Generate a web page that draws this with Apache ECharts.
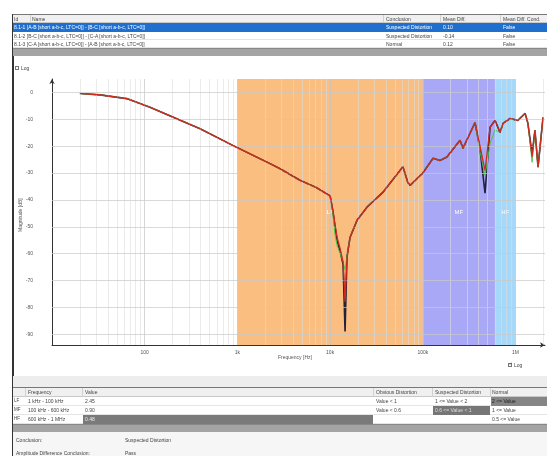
<!DOCTYPE html>
<html><head><meta charset="utf-8">
<script src="https://cdn.jsdelivr.net/npm/echarts@6/dist/echarts.min.js"></script>
<style>
html,body{margin:0;padding:0;width:547px;height:456px;overflow:hidden;background:#fff;font-family:"Liberation Sans",Arial,sans-serif;}
#chart{position:absolute;left:0;top:0;width:547px;height:456px;}
.b{position:absolute;box-sizing:border-box;}
.t{position:absolute;font-size:5px;line-height:8px;color:#444;white-space:nowrap;}
</style></head><body>
<div id="chart"></div>
<div id="ui"></div>
<script>
// ---------- data ----------
const freqHz = [20,33,64,114,203,396,890,2250,2890,4730,7000,10000,10700,11300,11900,12800,13800,14500,15200,16400,19500,25000,37000,61000,69000,73000,93000,100000,129000,153000,182000,252000,271000,366000,414000,469000,531000,601000,681000,733000,873000,1060000,1270000,1360000,1510000,1620000,1750000,1980000];
const redDb   = [-0.4,-0.9,-2.3,-5.5,-9.2,-13.5,-19.7,-26.5,-28.4,-32.7,-35.3,-38.5,-44,-49,-54,-58,-63,-78,-62,-54,-47.6,-42.7,-37.2,-27.7,-33.5,-34.6,-31,-30,-24.5,-25.3,-24,-17.8,-20.8,-11.2,-20,-29,-13,-10.4,-14.9,-11.5,-9.7,-10.4,-7.8,-11.5,-24,-14,-27.8,-9.3];
const greenDb = [-0.4,-0.9,-2.3,-5.5,-9.2,-13.5,-19.7,-26.5,-28.4,-32.7,-35.3,-38.5,-45,-53,-57,-60,-63,-66,-61,-54,-47.6,-42.7,-37.2,-27.7,-33.5,-34.6,-31,-30,-24.5,-25.3,-24,-17.8,-20.8,-11.2,-22,-31,-19,-14,-14.9,-11.5,-9.7,-10.4,-7.8,-11.5,-26,-14,-27.8,-9.3];
const darkDb  = [-0.4,-0.9,-2.3,-5.5,-9.2,-13.5,-19.7,-26.5,-28.4,-32.7,-35.3,-38.5,-44,-50,-55,-59,-64,-89,-61,-54,-47.6,-42.7,-37.2,-27.7,-33.5,-34.6,-31,-30,-24.5,-25.3,-24,-17.8,-20.8,-11.2,-21,-37.5,-13,-10.4,-14.9,-11.5,-9.7,-10.4,-7.8,-11.5,-23,-14,-27.8,-9.3];

const bandNames = ['LF','MF','HF'];
const bandStartHz = [1000,100000,600000];
const bandEndHz = [100000,600000,1000000];

const xTickValues = [100,1000,10000,100000,1000000];
const xTickLabels = ['100','1k','10k','100k','1M'];
const yTickValues = [0,-10,-20,-30,-40,-50,-60,-70,-80,-90];
const decades = [10,100,1000,10000,100000,1000000];
const minorMultipliers = [2,3,4,5,6,7,8,9];

const topHeaders = ['Id','Name','Conclusion','Mean Diff.','Mean Diff. Cond.'];
const topIds = ['8.1-1','8.1-2','8.1-3'];
const topNames = ['[A-B [short a-b-c, LTC=0]] - [B-C [short a-b-c, LTC=0]]','[B-C [short a-b-c, LTC=0]] - [C-A [short a-b-c, LTC=0]]','[C-A [short a-b-c, LTC=0]] - [A-B [short a-b-c, LTC=0]]'];
const topConclusions = ['Suspected Distortion','Suspected Distortion','Normal'];
const topMeanDiff = ['0.10','-0.14','0.12'];
const topCond = ['False','False','False'];

const botHeaders = ['Frequency','Value','Obvious Distortion','Suspected Distortion','Normal'];
const botBands = ['LF','MF','HF'];
const botRanges = ['1 kHz - 100 kHz','100 kHz - 600 kHz','600 kHz - 1 MHz'];
const botValues = ['2.45','0.90','0.48'];
const botObvious = ['Value < 1','Value < 0.6',''];
const botSuspected = ['1 <= Value < 2','0.6 <= Value < 1',''];
const botNormal = ['2 <= Value','1 <= Value','0.5 <= Value'];

// ---------- UI (tables) ----------
const ui = document.getElementById('ui');
function box(l,t,w,h,style){const d=document.createElement('div');d.className='b';d.style.cssText=`left:${l}px;top:${t}px;width:${w}px;height:${h}px;`+(style||'');ui.appendChild(d);return d;}
function txt(l,t,s,style){const d=document.createElement('div');d.className='t';d.style.cssText=`left:${l}px;top:${t}px;`+(style||'');d.textContent=s;ui.appendChild(d);return d;}

// left frame
box(12,14,1.5,442,'background:#333;');
// top table
box(13,14,534,1,'background:#777;');
box(13,15,534,8,'background:#f0f0f0;border-bottom:1px solid #c8c8c8;');
const topCols=[14,32,386,443,503];
[30,383,440,500].forEach(x=>box(x,15,1,8,'background:#d0d0d0;'));
topHeaders.forEach((h,i)=>txt(topCols[i],15,h));
const rowTops=[23,32,40];
rowTops.forEach((rt,i)=>{
  const sel=i===0;
  box(13,rt,534,i===0?9:8,sel?'background:#1f6fcf;':'background:#fff;border-bottom:1px solid #e4e4e4;');
  const c=sel?'color:#fff;':'';
  txt(14,rt,topIds[i]+' '+topNames[i],c);
  txt(386,rt,topConclusions[i],c);
  txt(443,rt,topMeanDiff[i],c);
  txt(503,rt,topCond[i],c);
});
box(13,48,534,8,'background:#a4a4a4;border-top:1px solid #888;');
// log checkbox top-left
box(15,66,4,4,'border:0.6px solid #777;background:#fff;');
txt(21,64,'Log');
// bottom right checkbox
box(508,363,4,4,'border:0.6px solid #777;background:#fff;');
txt(509.2,360,'✓','font-size:4px;color:#333;');
txt(514,361,'Log');

// bottom panel
box(13,376,534,11,'background:#ededed;');
box(13,387,534,1,'background:#777;');
box(13,388,534,9,'background:#f0f0f0;border-bottom:1px solid #c8c8c8;');
const botCols=[28,85,376,435,492];
botHeaders.forEach((h,i)=>txt(botCols[i],388,h));
[25,82,373,432,490].forEach(x=>box(x,388,1,36,'background:#d0d0d0;'));
const bRowTops=[397,406,415];
bRowTops.forEach((rt,i)=>{
  box(13,rt,534,9,'background:#fff;border-bottom:1px solid #e4e4e4;');
  txt(14,rt,botBands[i],'font-size:4.5px;');
  txt(28,rt,botRanges[i]);
  if(i===2){box(83,rt,290,9,'background:#7a7a7a;');txt(85,rt,botValues[i],'color:#eee;');}
  else txt(85,rt,botValues[i]);
  txt(376,rt,botObvious[i]);
  if(i===1){box(433,rt,57,9,'background:#767676;');txt(435,rt,botSuspected[i],'color:#ddd;');}
  else txt(435,rt,botSuspected[i]);
  if(i===0){box(491,rt,56,9,'background:#858585;');txt(492,rt,botNormal[i],'color:#222;');}
  else txt(492,rt,botNormal[i]);
});
box(13,424,534,8,'background:#a4a4a4;border-top:1px solid #888;');
box(13,432,534,24,'background:#f6f6f6;');
txt(16,436,'Conclusion:');
txt(125,436,'Suspected Distortion');
txt(16,449,'Amplitude Difference Conclusion:');
txt(125,449,'Pass');

// ---------- chart ----------
const chart = echarts.init(document.getElementById('chart'), null, {renderer:'canvas'});
const XMIN=10, XMAX=2080000;
const minorX=[];
decades.forEach(d=>minorMultipliers.forEach(m=>{const v=d*m; if(v<XMAX) minorX.push(v);}));
const noLbl={show:false};
const gridSeries = {
  type:'line', data:[], z:1, silent:true,
  markLine:{silent:true,symbol:['none','none'],label:noLbl,animation:false,
    data:[
      ...minorX.map(v=>({xAxis:v,lineStyle:{color:'#dedede',width:0.6,type:'solid'}})),
      ...xTickValues.map(v=>({xAxis:v,lineStyle:{color:'#c4c4c4',width:0.7,type:'solid'}})),
      ...yTickValues.map(v=>({yAxis:v,lineStyle:{color:'#c8c8c8',width:0.7,type:'solid'}}))
    ]}
};
const bandColors=['rgba(245,150,50,0.62)','rgba(110,110,240,0.6)','rgba(105,190,245,0.6)'];
const bandSeries = {
  type:'line', data:[], z:2, silent:true,
  markArea:{silent:true,animation:false,
    data: bandNames.map((n,i)=>[{name:n,xAxis:bandStartHz[i],itemStyle:{color:bandColors[i]}},{xAxis:bandEndHz[i]}]),
    label:{show:true,position:'inside',color:'#fff',fontSize:6,fontFamily:'Liberation Sans'}
  }
};
function mk(name,vals,color,w,z){
  return {name,type:'line',z,showSymbol:false,symbol:'none',animation:false,
    data:freqHz.map((f,i)=>[f,vals[i]]),lineStyle:{color,width:w},itemStyle:{color}};
}
chart.setOption({
  animation:false,
  backgroundColor:'transparent',
  grid:{left:52,top:79,width:493,height:266,containLabel:false},
  xAxis:{type:'log',logBase:10,min:XMIN,max:XMAX,
    axisLine:{onZero:false,lineStyle:{color:'#333',width:1},symbol:['none','arrow'],symbolSize:[4,5]},
    axisTick:{show:false},splitLine:{show:false},minorSplitLine:{show:false},
    axisLabel:{fontSize:5,color:'#555',margin:5,fontFamily:'Liberation Sans',showMinLabel:false,showMaxLabel:false,
      formatter:v=>{const i=xTickValues.findIndex(t=>Math.abs(t-v)/t<1e-6);return i>=0?xTickLabels[i]:'';}}},
  yAxis:{type:'value',min:-94,max:5,splitNumber:10,
    axisLine:{show:true,onZero:false,lineStyle:{color:'#333',width:1},symbol:['none','arrow'],symbolSize:[4,5]},
    axisTick:{show:false},splitLine:{show:false},
    axisLabel:{fontSize:5,color:'#555',margin:19,fontFamily:'Liberation Sans',showMinLabel:false,showMaxLabel:false,
      formatter:v=>yTickValues.includes(v)?String(v):''}},
  graphic:[
    {type:'text',left:278,top:355,style:{text:'Frequency [Hz]',fontSize:5,fill:'#555',fontFamily:'Liberation Sans'}},
    {type:'text',x:18,y:232,rotation:Math.PI/2,style:{text:'Magnitude [dB]',fontSize:5,fill:'#555',fontFamily:'Liberation Sans'}}
  ],
  series:[
    gridSeries, bandSeries,
    mk('dark',darkDb,'#24213a',1.6,3),
    mk('green',greenDb,'#3cc83c',0.9,4),
    mk('red',redDb,'#d8261c',1.2,5)
  ]
});
</script>
</body></html>
